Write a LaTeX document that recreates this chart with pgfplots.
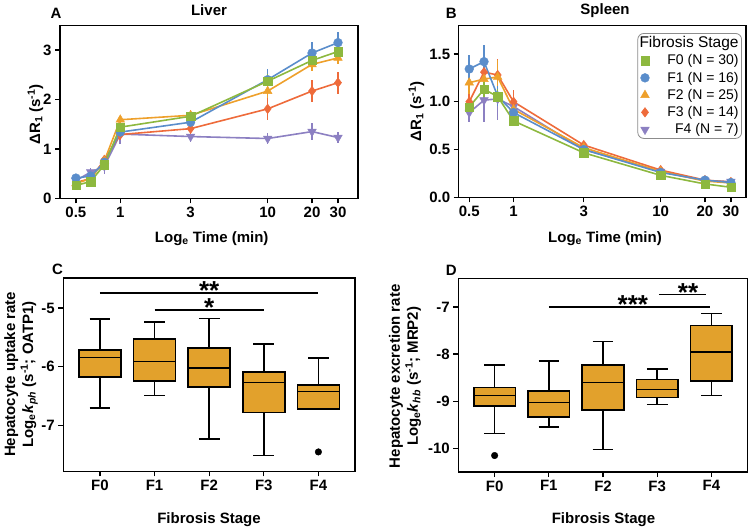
\documentclass[border=0pt]{standalone}
\usepackage{fontspec}
\setmainfont{Liberation Sans}
\usepackage{pgfplots}
\pgfplotsset{compat=1.18}
\definecolor{cF0}{HTML}{8DB83F}
\definecolor{cF1}{HTML}{5A8DCB}
\definecolor{cF2}{HTML}{EEA02B}
\definecolor{cF3}{HTML}{EE6B3B}
\definecolor{cF4}{HTML}{8C80C2}
\definecolor{boxfill}{HTML}{E2A12C}
\pgfplotsset{
  myser/.style={color=#1, line width=1.6pt,
    error bars/y dir=both, error bars/y explicit, error bars/error mark=none,
    error bars/error bar style={line width=1.6pt, color=#1}},
  sF0/.style={myser=cF0, mark=square*, mark size=4.2pt, mark options={solid, line width=0.4pt}},
  sF1/.style={myser=cF1, mark=*, mark size=4.4pt, mark options={solid, line width=0.4pt}},
  sF2/.style={myser=cF2, mark=triangle*, mark size=5pt, mark options={solid, line width=0.4pt}},
  sF3/.style={myser=cF3, mark=diamond*, mark size=4.8pt, mark options={solid, line width=0.4pt}},
  sF4/.style={myser=cF4, mark=triangle*, mark size=5pt, mark options={solid, line width=0.4pt, rotate=180}},
  boxst/.style={draw=black, fill=boxfill, line width=1.6pt, line join=miter},
  whisk/.style={black, line width=1.6pt, unbounded coords=jump},
}
\tikzset{sigstar/.style={font=\fontsize{26}{26}\selectfont\bfseries, anchor=base, inner sep=0pt, yshift=-6.5pt},
  frm/.style={black, line width=1.5pt, line join=miter},
  tck/.style={black, line width=1.3pt}}
\begin{document}
\begin{tikzpicture}
% ---------------- A: Liver
\begin{axis}[scale only axis, at={(60pt,328pt)}, anchor=south west, width=298pt, height=173pt, clip=false,
  axis line style={black, line width=1.5pt}, tick style={black, line width=1.3pt},
  major tick length=5pt, tick align=outside, xtick pos=left, ytick pos=left,
  tick label style={font=\fontsize{15}{18}\selectfont\bfseries}, /pgf/number format/assume math mode=true,
  xmode=log, xmin=0.39, xmax=41, ymin=0, ymax=3.5,
  xtick={0.5,1,3,10,20,30}, xticklabels={0.5,1,3,10,20,30},
  ytick={0,1,2,3}, yticklabels={0,1,2,3}]
\addplot[sF4] coordinates {(0.5,0.36)+-(0,0.05) (0.63,0.53)+-(0,0.08) (0.78,0.65)+-(0,0.16) (1,1.30)+-(0,0.2) (3,1.25)+-(0,0.12) (10,1.21)+-(0,0.12) (20,1.35)+-(0,0.17) (30,1.23)+-(0,0.12)};
\addplot[sF3] coordinates {(0.5,0.32)+-(0,0.04) (0.63,0.40)+-(0,0.05) (0.78,0.78)+-(0,0.1) (1,1.29)+-(0,0.1) (3,1.41)+-(0,0.1) (10,1.81)+-(0,0.22) (20,2.17)+-(0,0.22) (30,2.34)+-(0,0.22)};
\addplot[sF2] coordinates {(0.5,0.30)+-(0,0.04) (0.63,0.40)+-(0,0.05) (0.78,0.76)+-(0,0.1) (1,1.59)+-(0,0.08) (3,1.68)+-(0,0.1) (10,2.17)+-(0,0.14) (20,2.71)+-(0,0.14) (30,2.84)+-(0,0.12)};
\addplot[sF1] coordinates {(0.5,0.41)+-(0,0.04) (0.63,0.45)+-(0,0.05) (0.78,0.73)+-(0,0.08) (1,1.34)+-(0,0.1) (3,1.54)+-(0,0.1) (10,2.40)+-(0,0.22) (20,2.94)+-(0,0.22) (30,3.15)+-(0,0.22)};
\addplot[sF0] coordinates {(0.5,0.26)+-(0,0.03) (0.63,0.34)+-(0,0.04) (0.78,0.68)+-(0,0.08) (1,1.44)+-(0,0.08) (3,1.66)+-(0,0.08) (10,2.37)+-(0,0.14) (20,2.79)+-(0,0.14) (30,2.97)+-(0,0.14)};
\draw[frm] (rel axis cs:0,0) rectangle (rel axis cs:1,1);
\pgfplotsinvokeforeach{0.5,1,3,10,20,30}{\draw[tck] (axis cs:#1,0) -- ++(0pt,-5pt);}
\pgfplotsinvokeforeach{0,1,2,3}{\draw[tck] (axis cs:0.39,#1) -- ++(-5pt,0pt);}
\end{axis}
% ---------------- B: Spleen
\begin{axis}[scale only axis, at={(458.7pt,329pt)}, anchor=south west, width=287.3pt, height=172pt, clip=false,
  axis line style={black, line width=1.5pt}, tick style={black, line width=1.3pt},
  major tick length=5pt, tick align=outside, xtick pos=left, ytick pos=left,
  tick label style={font=\fontsize{15}{18}\selectfont\bfseries}, /pgf/number format/assume math mode=true,
  xmode=log, xmin=0.424, xmax=38, ymin=0, ymax=1.8,
  xtick={0.5,1,3,10,20,30}, xticklabels={0.5,1,3,10,20,30},
  ytick={0,0.5,1,1.5}, yticklabels={0.0,0.5,1.0,1.5},
  reverse legend,
  legend cell align=right,
  legend image code/.code={\path (0pt,0pt) (25pt,0pt); \draw[#1, only marks] plot coordinates {(4.4pt,0pt)};},
  legend style={at={(rel axis cs:0.986,0.955)}, anchor=north east,
    draw=black!45, line width=0.8pt, rounded corners=6pt,
    font=\fontsize{14}{16}\selectfont\mdseries,
    inner xsep=2pt, inner ysep=2pt, row sep=3.6pt,
    nodes={inner xsep=1pt, inner ysep=1pt}}]
\addplot[sF4] coordinates {(0.5,0.887)+-(0,0.1) (0.63,1.017)+-(0,0.23) (0.78,1.03)+-(0,0.22) (1,0.95)+-(0,0.06) (3,0.50)+-(0,0.02) (10,0.27)+-(0,0.02) (20,0.175)+-(0,0.02) (30,0.165)+-(0,0.02)};
\addlegendentry{F4 (N = 7)}
\addplot[sF3] coordinates {(0.5,1.0)+-(0,0.1) (0.63,1.31)+-(0,0.12) (0.78,1.28)+-(0,0.17) (1,1.0)+-(0,0.12) (3,0.547)+-(0,0.03) (10,0.285)+-(0,0.02) (20,0.18)+-(0,0.02) (30,0.16)+-(0,0.02)};
\addlegendentry{F3 (N = 14)}
\addplot[sF2] coordinates {(0.5,1.2)+-(0,0.12) (0.63,1.237)+-(0,0.12) (0.78,1.26)+-(0,0.18) (1,0.92)+-(0,0.06) (3,0.52)+-(0,0.03) (10,0.27)+-(0,0.02) (20,0.17)+-(0,0.02) (30,0.15)+-(0,0.02)};
\addlegendentry{F2 (N = 25)}
\addplot[sF1] coordinates {(0.5,1.343)+-(0,0.15) (0.63,1.42)+-(0,0.17) (0.78,1.06)+-(0,0.1) (1,0.887)+-(0,0.05) (3,0.50)+-(0,0.03) (10,0.26)+-(0,0.02) (20,0.18)+-(0,0.02) (30,0.155)+-(0,0.02)};
\addlegendentry{F1 (N = 16)}
\addplot[sF0] coordinates {(0.5,0.946)+-(0,0.08) (0.63,1.13)+-(0,0.08) (0.78,1.055)+-(0,0.08) (1,0.80)+-(0,0.04) (3,0.466)+-(0,0.03) (10,0.23)+-(0,0.02) (20,0.14)+-(0,0.02) (30,0.105)+-(0,0.02)};
\addlegendentry{F0 (N = 30)}
\addlegendimage{empty legend}
\addlegendentry{\makebox[0pt][r]{\fontsize{15.5}{17}\selectfont Fibrosis Stage}}
\draw[frm] (rel axis cs:0,0) rectangle (rel axis cs:1,1);
\pgfplotsinvokeforeach{0.5,1,3,10,20,30}{\draw[tck] (axis cs:#1,0) -- ++(0pt,-5pt);}
\pgfplotsinvokeforeach{0,0.5,1,1.5}{\draw[tck] (axis cs:0.424,#1) -- ++(-5pt,0pt);}
\end{axis}
% ---------------- C
\begin{axis}[scale only axis, at={(63.3pt,55pt)}, anchor=south west, width=291.7pt, height=193.3pt, clip=false,
  axis line style={black, line width=1.5pt}, tick style={black, line width=1.3pt},
  major tick length=5pt, tick align=outside, xtick pos=left, ytick pos=left,
  tick label style={font=\fontsize{15}{18}\selectfont\bfseries}, /pgf/number format/assume math mode=true,
  xmin=-0.67, xmax=4.67, ymin=-7.78, ymax=-4.49,
  xtick={0,1,2,3,4}, xticklabels={F0,F1,F2,F3,F4},
  ytick={-7,-6,-5}, yticklabels={-7,-6,-5}]
\addplot[whisk] coordinates {
 (0,-5.71) (0,-5.19) (0,nan) (-0.19,-5.19) (0.19,-5.19) (0,nan)
 (0,-6.17) (0,-6.70) (0,nan) (-0.19,-6.70) (0.19,-6.70) (0,nan)
 (1,-5.53) (1,-5.24) (0,nan) (0.81,-5.24) (1.19,-5.24) (0,nan)
 (1,-6.24) (1,-6.49) (0,nan) (0.81,-6.49) (1.19,-6.49) (0,nan)
 (2,-5.68) (2,-5.18) (0,nan) (1.81,-5.18) (2.19,-5.18) (0,nan)
 (2,-6.34) (2,-7.23) (0,nan) (1.81,-7.23) (2.19,-7.23) (0,nan)
 (3,-6.09) (3,-5.61) (0,nan) (2.81,-5.61) (3.19,-5.61) (0,nan)
 (3,-6.78) (3,-7.51) (0,nan) (2.81,-7.51) (3.19,-7.51) (0,nan)
 (4,-6.31) (4,-5.85) (0,nan) (3.81,-5.85) (4.19,-5.85)};
\addplot[boxst] coordinates {(-0.385,-6.17) (0.385,-6.17) (0.385,-5.71) (-0.385,-5.71)} -- cycle;
\addplot[boxst] coordinates {(0.615,-6.24) (1.385,-6.24) (1.385,-5.53) (0.615,-5.53)} -- cycle;
\addplot[boxst] coordinates {(1.615,-6.34) (2.385,-6.34) (2.385,-5.68) (1.615,-5.68)} -- cycle;
\addplot[boxst] coordinates {(2.615,-6.78) (3.385,-6.78) (3.385,-6.09) (2.615,-6.09)} -- cycle;
\addplot[boxst] coordinates {(3.615,-6.72) (4.385,-6.72) (4.385,-6.31) (3.615,-6.31)} -- cycle;
\addplot[whisk] coordinates {(-0.385,-5.84) (0.385,-5.84) (0,nan) (0.615,-5.91) (1.385,-5.91) (0,nan) (1.615,-6.02) (2.385,-6.02) (0,nan) (2.615,-6.27) (3.385,-6.27) (0,nan) (3.615,-6.42) (4.385,-6.42)};
\addplot[only marks, mark=*, mark size=3.3pt, black] coordinates {(4,-7.45)};
\addplot[black, line width=1.6pt] coordinates {(0,-4.745) (4,-4.745)};
\addplot[black, line width=1.6pt] coordinates {(1,-5.03) (3,-5.03)};
\node[sigstar] at (axis cs:2,-4.745) {**};
\node[sigstar] at (axis cs:2,-5.03) {*};
\draw[frm] (rel axis cs:0,0) rectangle (rel axis cs:1,1);
\pgfplotsinvokeforeach{0,1,2,3,4}{\draw[tck] (axis cs:#1,-7.78) -- ++(0pt,-5pt);}
\pgfplotsinvokeforeach{-7,-6,-5}{\draw[tck] (axis cs:-0.67,#1) -- ++(-5pt,0pt);}
\end{axis}
% ---------------- D
\begin{axis}[scale only axis, at={(458.3pt,54.3pt)}, anchor=south west, width=289.4pt, height=193.4pt, clip=false,
  axis line style={black, line width=1.5pt}, tick style={black, line width=1.3pt},
  major tick length=5pt, tick align=outside, xtick pos=left, ytick pos=left,
  tick label style={font=\fontsize{15}{18}\selectfont\bfseries}, /pgf/number format/assume math mode=true,
  xmin=-0.67, xmax=4.67, ymin=-10.5, ymax=-6.40,
  xtick={0,1,2,3,4}, xticklabels={F0,F1,F2,F3,F4},
  ytick={-10,-9,-8,-7}, yticklabels={-10,-9,-8,-7}]
\addplot[whisk] coordinates {
 (0,-8.71) (0,-8.235) (0,nan) (-0.19,-8.235) (0.19,-8.235) (0,nan)
 (0,-9.10) (0,-9.68) (0,nan) (-0.19,-9.68) (0.19,-9.68) (0,nan)
 (1,-8.78) (1,-8.14) (0,nan) (0.81,-8.14) (1.19,-8.14) (0,nan)
 (1,-9.33) (1,-9.55) (0,nan) (0.81,-9.55) (1.19,-9.55) (0,nan)
 (2,-8.235) (2,-7.73) (0,nan) (1.81,-7.73) (2.19,-7.73) (0,nan)
 (2,-9.19) (2,-10.02) (0,nan) (1.81,-10.02) (2.19,-10.02) (0,nan)
 (3,-8.54) (3,-8.31) (0,nan) (2.81,-8.31) (3.19,-8.31) (0,nan)
 (3,-8.92) (3,-9.07) (0,nan) (2.81,-9.07) (3.19,-9.07) (0,nan)
 (4,-7.39) (4,-7.14) (0,nan) (3.81,-7.14) (4.19,-7.14) (0,nan)
 (4,-8.57) (4,-8.88) (0,nan) (3.81,-8.88) (4.19,-8.88)};
\addplot[boxst] coordinates {(-0.385,-9.10) (0.385,-9.10) (0.385,-8.71) (-0.385,-8.71)} -- cycle;
\addplot[boxst] coordinates {(0.615,-9.33) (1.385,-9.33) (1.385,-8.78) (0.615,-8.78)} -- cycle;
\addplot[boxst] coordinates {(1.615,-9.19) (2.385,-9.19) (2.385,-8.235) (1.615,-8.235)} -- cycle;
\addplot[boxst] coordinates {(2.615,-8.92) (3.385,-8.92) (3.385,-8.54) (2.615,-8.54)} -- cycle;
\addplot[boxst] coordinates {(3.615,-8.57) (4.385,-8.57) (4.385,-7.39) (3.615,-7.39)} -- cycle;
\addplot[whisk] coordinates {(-0.385,-8.88) (0.385,-8.88) (0,nan) (0.615,-9.03) (1.385,-9.03) (0,nan) (1.615,-8.60) (2.385,-8.60) (0,nan) (2.615,-8.75) (3.385,-8.75) (0,nan) (3.615,-7.95) (4.385,-7.95)};
\addplot[only marks, mark=*, mark size=3.3pt, black] coordinates {(0,-10.15)};
\addplot[black, line width=1.6pt] coordinates {(1,-7.0) (3.98,-7.0)};
\addplot[black, line width=1.6pt] coordinates {(3.03,-6.74) (3.9,-6.74)};
\node[sigstar] at (axis cs:2.55,-7.0) {***};
\node[sigstar] at (axis cs:3.57,-6.74) {**};
\draw[frm] (rel axis cs:0,0) rectangle (rel axis cs:1,1);
\pgfplotsinvokeforeach{0,1,2,3,4}{\draw[tck] (axis cs:#1,-10.5) -- ++(0pt,-5pt);}
\pgfplotsinvokeforeach{-10,-9,-8,-7}{\draw[tck] (axis cs:-0.67,#1) -- ++(-5pt,0pt);}
\end{axis}
% ---------------- texts
\begin{scope}[every node/.style={font=\fontsize{15}{18}\selectfont\bfseries}]
\node at (209pt,516pt) {Liver};
\node at (605pt,516pt) {Spleen};
\node at (56pt,512.5pt) {A};
\node at (451.3pt,512.5pt) {B};
\node at (57.5pt,257pt) {C};
\node at (451.3pt,256pt) {D};
\node[anchor=base] at (211.7pt,284.3pt) {Log\textsubscript{e} Time (min)};
\node[anchor=base] at (605pt,284.3pt) {Log\textsubscript{e} Time (min)};
\node[anchor=base] at (209pt,3.3pt) {Fibrosis Stage};
\node[anchor=base] at (603.5pt,3.3pt) {Fibrosis Stage};
\node[rotate=90, anchor=base] at (40pt,412pt) {ΔR\textsubscript{1} (s\textsuperscript{-1})};
\node[rotate=90, anchor=base] at (421pt,415pt) {ΔR\textsubscript{1} (s\textsuperscript{-1})};
\node[rotate=90, align=center, anchor=center] at (21pt,152pt) {Hepatocyte uptake rate\\Log\textsubscript{e}\textit{k}\textsubscript{\textit{ph}} (s\textsuperscript{-1}; OATP1)};
\node[rotate=90, align=center, anchor=center] at (405pt,150pt) {Hepatocyte excretion rate\\Log\textsubscript{e}\textit{k}\textsubscript{\textit{hb}} (s\textsuperscript{-1}; MRP2)};
\end{scope}
\path (0,0) rectangle (752pt,525pt);
\end{tikzpicture}
\end{document}
